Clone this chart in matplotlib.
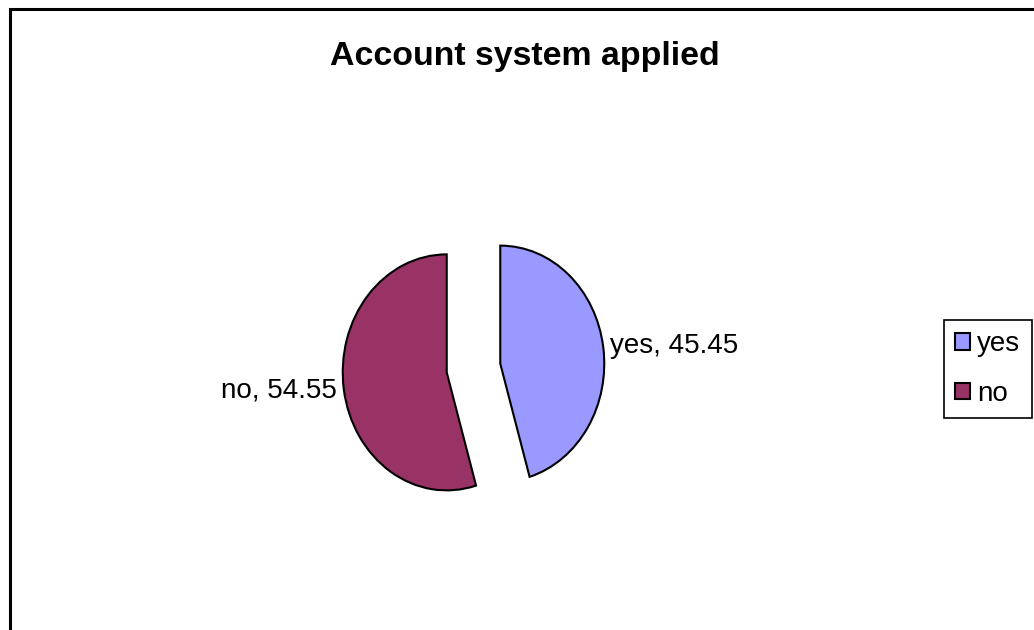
import numpy as np
import matplotlib
matplotlib.use('Agg')
import matplotlib.pyplot as plt
from matplotlib.patches import Rectangle

plt.rcParams['font.family'] = ['Liberation Sans', 'DejaVu Sans']

# datos
categorias = ['yes', 'no']
valores = [45.45, 54.55]
colores = ['#9999FF', '#993366']

W, H = 1034, 630
fig = plt.figure(figsize=(W / 100, H / 100), dpi=100)

# marco del grafico (sale por derecha y abajo)
fig.patches.append(Rectangle((9.5 / W, -0.1), 1.2, (H - 9.5) / H + 0.1,
                             transform=fig.transFigure, fill=False,
                             edgecolor='black', linewidth=2.2))

# ejes del pie: 1 unidad = 104 px en x, 118 px en y
cx, cy = 473.5, 368
rx, ry = 104, 118
ax = fig.add_axes([(cx - 1.5 * rx) / W, (H - cy - 1.5 * ry) / H,
                   3 * rx / W, 3 * ry / H])
etiquetas = ['%s, %.2f' % (c, v) for c, v in zip(categorias, valores)]
wedges, textos = ax.pie(valores, labels=etiquetas, colors=colores,
                        startangle=90, counterclock=False,
                        explode=[0.26, 0.26], labeldistance=1.07,
                        wedgeprops=dict(edgecolor='black', linewidth=1.5),
                        textprops=dict(fontsize=20, color='black'))
ax.set_aspect('auto')
ax.set_xlim(-1.5, 1.5)
ax.set_ylim(-1.5, 1.5)

fig.text(525 / W, 1 - 57 / H, 'Account system applied', ha='center',
         va='center', fontsize=24.4, fontweight='bold')

leg = fig.legend(wedges, categorias, loc='center',
                 bbox_to_anchor=(988 / W, 1 - 369 / H), fontsize=20,
                 frameon=True, fancybox=False, edgecolor='black',
                 framealpha=1, handlelength=0.54, handleheight=0.54,
                 handletextpad=0.25, borderpad=0.42, labelspacing=0.85,
                 borderaxespad=0)
leg.get_frame().set_linewidth(1.2)

fig.savefig('out.png', dpi=100)
